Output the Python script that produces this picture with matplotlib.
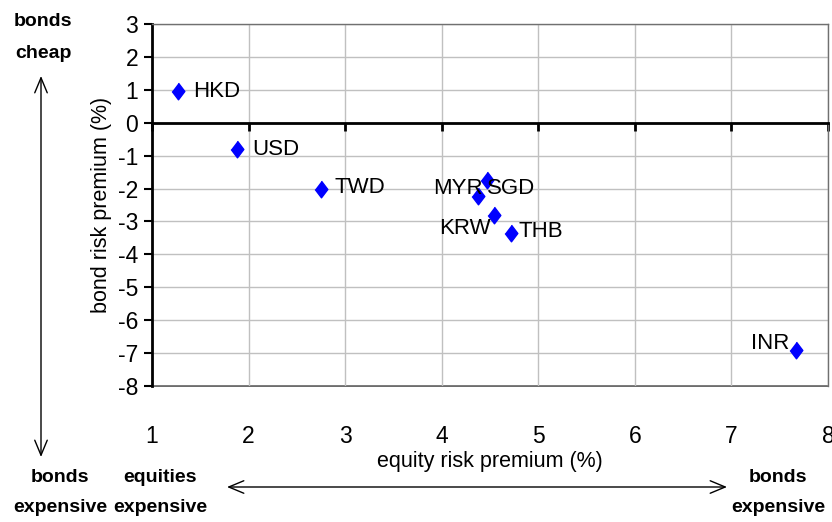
import matplotlib
matplotlib.use('Agg')
import matplotlib.pyplot as plt

plt.rcParams['font.family'] = ['Liberation Sans', 'DejaVu Sans']
plt.rcParams['axes.unicode_minus'] = False

# equity vs bond risk premium by currency
currencies = ['HKD', 'USD', 'TWD', 'MYR', 'SGD', 'KRW', 'THB', 'INR']
equity_rp  = [1.27, 1.88, 2.75, 4.38, 4.47, 4.54, 4.72, 7.67]
bond_rp    = [0.95, -0.81, -2.02, -2.24, -1.75, -2.79, -3.36, -6.92]

# label offsets (points) and alignment for each point
label_off = [(11, 0), (11, 0), (10, 1), (3, 6), (0, -6), (-2, -10), (5, 1), (-5, 5)]
label_ha  = ['left', 'left', 'left', 'right', 'left', 'right', 'left', 'right']

fig = plt.figure(figsize=(8.32, 5.22), dpi=100)
ax = fig.add_axes([152/832, 1-386/522, 676/832, 362/522])

diamond = [(0, 1), (0.76, 0), (0, -1), (-0.76, 0)]
ax.plot(equity_rp, bond_rp, linestyle='none', marker=diamond, markersize=12,
        color='#0000ff', zorder=5, clip_on=False)

for name, x, y, off, ha in zip(currencies, equity_rp, bond_rp, label_off, label_ha):
    ax.annotate(name, (x, y), xytext=off, textcoords='offset points',
                ha=ha, va='center', fontsize=16, zorder=6)

ax.set_xlim(1, 8)
ax.set_ylim(-8, 3)
ax.set_xticks(range(1, 9))
ax.set_yticks(range(-8, 4))
ax.grid(True, color='#c0c0c0', lw=1)
ax.set_axisbelow(True)

# horizontal axis line runs through zero
ax.spines['bottom'].set_position(('data', 0))
ax.spines['bottom'].set_linewidth(2)
ax.spines['bottom'].set_color('black')
ax.spines['left'].set_linewidth(2)
ax.spines['left'].set_color('black')
for s in ['top', 'right']:
    ax.spines[s].set_color('#707070')
    ax.spines[s].set_linewidth(1)
ax.tick_params(axis='x', direction='out', length=6, width=2, labelbottom=False)
ax.tick_params(axis='y', direction='out', length=6, width=1.5, pad=4, labelsize=16.5)

# tick labels sit below the plot frame
sec = ax.secondary_xaxis('bottom')
sec.set_xticks(range(1, 9))
sec.tick_params(length=0, pad=28, labelsize=16.5)
sec.spines['bottom'].set_color('#505050')
sec.spines['bottom'].set_linewidth(1.2)
sec.set_xlabel('equity risk premium (%)', fontsize=15.5, labelpad=2)

ax.set_ylabel('bond risk premium (%)', fontsize=15.5, labelpad=4)

bold = dict(fontsize=14, fontweight='bold', ha='center', va='center')
fig.text(43/832, 1-22/522, 'bonds', **bold)
fig.text(43/832, 1-54/522, 'cheap', **bold)
fig.text(60/832, 1-477/522, 'bonds', **bold)
fig.text(60/832, 1-507/522, 'expensive', **bold)
fig.text(160/832, 1-477/522, 'equities', **bold)
fig.text(160/832, 1-507/522, 'expensive', **bold)
fig.text(778/832, 1-477/522, 'bonds', **bold)
fig.text(778/832, 1-507/522, 'expensive', **bold)

arrow = dict(arrowstyle='<->,head_length=0.6,head_width=0.25', lw=1,
             mutation_scale=18, shrinkA=0, shrinkB=0, color='black')
ax.annotate('', xy=(41/832, 1-76/522), xytext=(41/832, 1-457/522),
            xycoords='figure fraction', textcoords='figure fraction', arrowprops=arrow)
ax.annotate('', xy=(227/832, 1-487/522), xytext=(727/832, 1-487/522),
            xycoords='figure fraction', textcoords='figure fraction', arrowprops=arrow)

plt.savefig('out.png', dpi=100)
